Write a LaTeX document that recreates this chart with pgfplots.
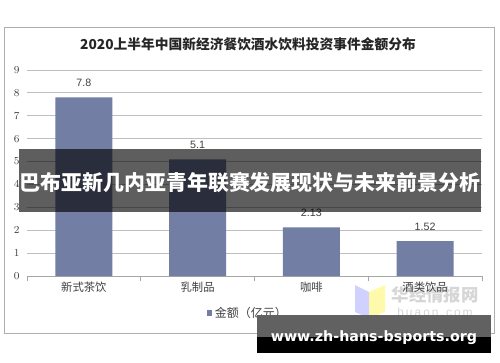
\documentclass[border=0pt]{standalone}
\usepackage{fontspec}
\setmainfont{Liberation Sans}
\newfontfamily\cjk{Noto Sans CJK SC}
\newfontfamily\web{DejaVu Sans}
\usepackage{pgfplots}
\pgfplotsset{compat=1.18}
\definecolor{barc}{RGB}{114,126,164}
\definecolor{txt}{RGB}{64,64,64}
\definecolor{frame}{RGB}{175,175,175}
\begin{document}
\begin{tikzpicture}[x=0.75pt,y=0.75pt]
\path[use as bounding box, fill=white] (0,0) rectangle (500,362);
\draw[frame, line width=0.6pt] (4,335) rectangle (494,29);
\node[font=\cjk\bfseries\fontsize{10.3}{12}\selectfont, text=black!85] at (248,318) {2020上半年中国新经济餐饮酒水饮料投资事件金额分布};
% watermark
\fill[blue!40, opacity=0.45] (355,77) -- (369,70) -- (369,44) -- (355,50) -- cycle;
\fill[yellow!60, opacity=0.55] (369,70) -- (385,77) -- (385,50) -- (369,44) -- cycle;
\node[font=\cjk\bfseries\fontsize{13}{15}\selectfont, text=gray!32] at (435,67) {华经情报网};
\node[font=\fontsize{9}{10}\selectfont, text=gray!32] at (435,50) {h\,u\,a\,o\,n\,.\,c\,o\,m};
\begin{axis}[at={(20.25pt,64.5pt)}, anchor=south west, scale only axis,
  width=341.25pt, height=154.5pt,
  xmin=-0.5, xmax=3.5, ymin=0, ymax=9,
  ytick={0,1,...,9},
  ymajorgrids, grid style={color=black!25, line width=0.6pt},
  axis x line*=bottom, axis y line*=left,
  y axis line style={draw=none},
  x axis line style={color=black!35, line width=0.6pt},
  xtick={0,1,2,3},
  xticklabels={新式茶饮,乳制品,咖啡,酒类饮品},
  x tick label style={font=\cjk\fontsize{8.5}{10}\selectfont, text=txt, yshift=-1pt},
  y tick label style={font=\fontsize{8.2}{9}\selectfont, text=txt, xshift=-2pt},
  major tick length=0pt,
  extra x ticks={-0.5,0.5,1.5,2.5,3.5},
  extra x tick labels={},
  extra x tick style={major tick length=4pt, tick align=outside, tick style={color=black!35, line width=0.6pt}},
  ybar, bar width=0.5,
  nodes near coords, point meta=explicit symbolic,
  every node near coord/.append style={font=\fontsize{8}{9}\selectfont, text=txt, yshift=4.5pt},
  legend style={at={(axis description cs:0.486,-0.18)}, anchor=center, draw=none, fill=none, font=\cjk\fontsize{9}{11}\selectfont, text=txt},
  legend image code/.code={\fill[barc] (0cm,-0.07cm) rectangle (0.14cm,0.07cm);},
]
\addplot[fill=barc, draw=none] coordinates {(0,7.8) [7.8] (1,5.1) [5.1] (2,2.13) [2.13] (3,1.52) [1.52]};
\addlegendentry{金额（亿元）}
\end{axis}
% banner
\fill[black, opacity=0.63] (19,213) rectangle (481,150);
\node[font=\cjk\bfseries\fontsize{15.7}{18}\selectfont, text=white] at (250,179) {巴布亚新几内亚青年联赛发展现状与未来前景分析};
% bottom box
\fill[black!62] (257,47) rectangle (491,25);
\fill[black] (257,25) rectangle (491,9);
\node[font=\web\bfseries\fontsize{10.7}{12}\selectfont, text=white] at (374,24) {www.zh-hans-bsports.org};
\end{tikzpicture}
\end{document}
